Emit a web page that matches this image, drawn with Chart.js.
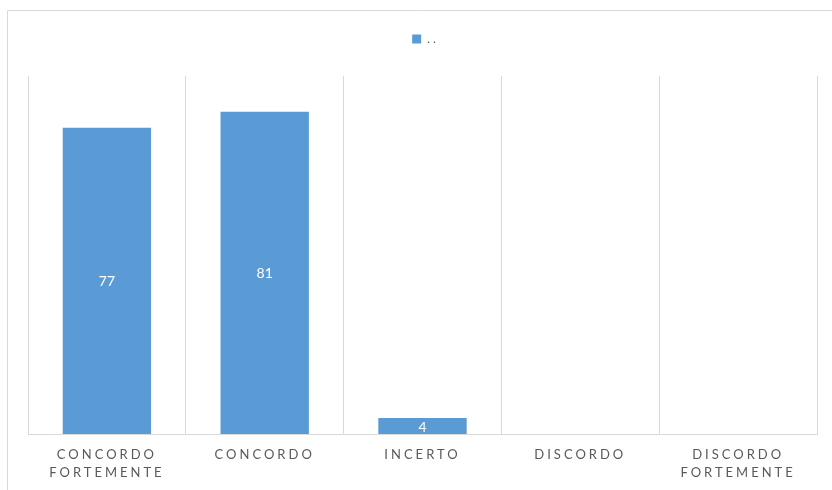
<!DOCTYPE html>
<html>
<head>
<meta charset="utf-8">
<script src="https://cdn.jsdelivr.net/npm/chart.js@4/dist/chart.umd.min.js"></script>
<style>
  html, body { margin:0; padding:0; background:#fff; }
  #wrap { width:832px; height:490px; position:relative; }
</style>
</head>
<body>
<div id="wrap"><canvas id="c" width="832" height="490"></canvas></div>
<script>
const categories = [['CONCORDO', 'FORTEMENTE'], 'CONCORDO', 'INCERTO', 'DISCORDO', ['DISCORDO', 'FORTEMENTE']];
const values = [77, 81, 4, 0, 0];
const seriesLabel = '..';
const yMax = 90;

const BAR = '#5B9BD5';
const GRID = '#D9D9D9';
const TEXT = '#595959';

// frame around the chart, like the office export
const framePlugin = {
  id: 'frame',
  beforeDraw(chart) {
    const ctx = chart.ctx;
    ctx.save();
    ctx.strokeStyle = GRID;
    ctx.lineWidth = 1;
    ctx.beginPath();
    ctx.moveTo(7.5, 490);
    ctx.lineTo(7.5, 10.5);
    ctx.lineTo(832, 10.5);
    ctx.stroke();
    ctx.restore();
    ctx.letterSpacing = '3px';
  },
  beforeLayout(chart) {
    // extra room below the legend
    const lg = chart.legend;
    if (lg && !lg._padded) {
      const fit = lg.fit.bind(lg);
      lg.fit = function () { fit(); this.height += 21; };
      lg._padded = true;
    }
  },
  beforeDatasetsDraw(chart) {
    chart.ctx.letterSpacing = '0px';
  },
  afterDatasetsDraw(chart) {
    const ctx = chart.ctx;
    const meta = chart.getDatasetMeta(0);
    ctx.save();
    ctx.letterSpacing = '0px';
    ctx.fillStyle = '#FFFFFF';
    ctx.font = '14px Lato, "Noto Sans", sans-serif';
    ctx.textAlign = 'center';
    ctx.textBaseline = 'middle';
    meta.data.forEach((bar, i) => {
      const v = values[i];
      if (!v) return;
      const p = bar.getCenterPoint();
      ctx.fillText(String(v), p.x, p.y + 1);
    });
    ctx.restore();
  }
};

new Chart(document.getElementById('c'), {
  type: 'bar',
  data: {
    labels: categories,
    datasets: [{
      label: seriesLabel,
      data: values,
      backgroundColor: BAR,
      borderWidth: 0,
      categoryPercentage: 0.56,
      barPercentage: 1
    }]
  },
  options: {
    responsive: false,
    animation: false,
    devicePixelRatio: 1,
    layout: { padding: { left: 28, right: 15, top: 23, bottom: 0 } },
    plugins: {
      legend: {
        position: 'top',
        labels: { boxWidth: 9, boxHeight: 9, padding: 10, color: TEXT, font: { family: 'Lato, "Noto Sans", sans-serif', size: 12 } }
      },
      tooltip: { enabled: false }
    },
    scales: {
      y: { display: false, min: 0, max: yMax },
      x: {
        grid: { color: GRID, drawTicks: false, offset: true },
        border: { color: GRID },
        ticks: { color: TEXT, padding: 12, maxRotation: 0, font: { family: 'Lato, "Noto Sans", sans-serif', size: 13, lineHeight: 1.4 } },
        afterFit(scale) { scale.height = 56; }
      }
    }
  },
  plugins: [framePlugin]
});
</script>
</body>
</html>
